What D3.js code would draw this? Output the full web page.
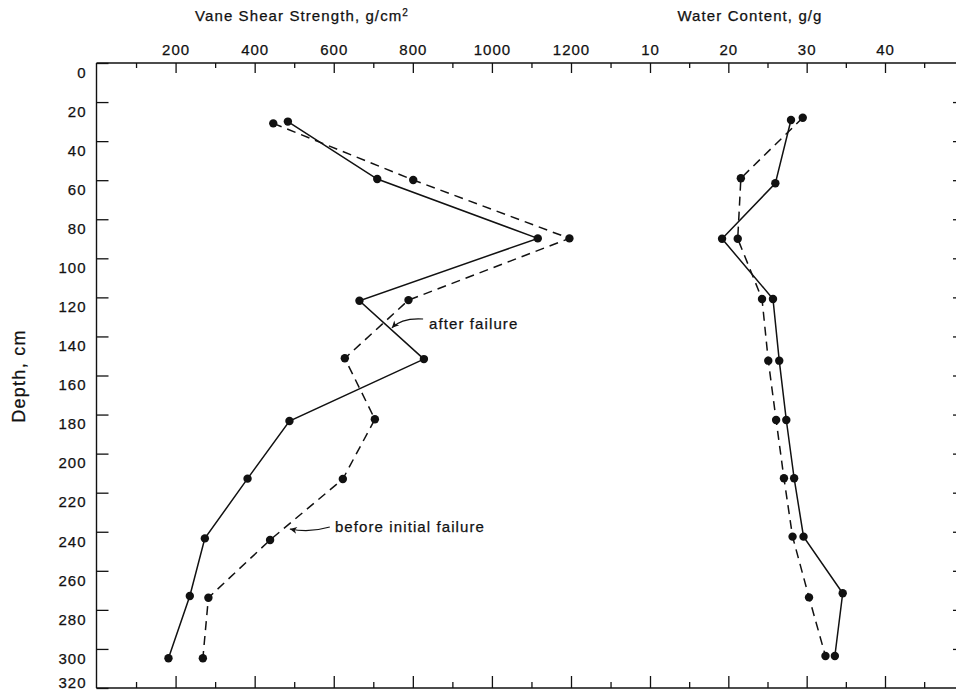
<!DOCTYPE html>
<html><head><meta charset="utf-8">
<script src="https://cdn.jsdelivr.net/npm/d3@7"></script>
<style>
body{margin:0;background:#fff;}
svg{display:block;font-family:"Liberation Sans",Arial,Helvetica,sans-serif;}
svg text{stroke:#111;stroke-width:0.25px;}
</style></head><body>
<svg id="chart" width="956" height="693"></svg>
<script>
// ---- data ----
const depthTicks = [0,20,40,60,80,100,120,140,160,180,200,220,240,260,280,300,320];
const vaneMajorTicks = [200,400,600,800,1000,1200];
const vaneMinorTicks = [100,300,500,700,900,1100,1300];
const waterMajorTicks = [10,20,30,40];
const waterMinorTicks = [15,25,35,45];

const vaneAfterDepth = [30.0, 59.4, 89.8, 121.7, 151.6, 183.3, 212.8, 243.4, 272.9, 304.8];
const vaneAfter      = [484, 710, 1116, 665, 828, 488, 382, 274, 236, 182];
const vaneBeforeDepth = [30.9, 59.9, 89.8, 121.4, 151.2, 182.4, 213.0, 244.2, 273.8, 304.8];
const vaneBefore      = [447, 801, 1196, 789, 628, 704, 623, 439, 283, 269];

const waterAfterDepth = [29.2, 61.6, 90.0, 120.8, 152.4, 182.8, 212.6, 242.5, 271.5, 303.6];
const waterAfter      = [28.0, 26.0, 19.2, 25.7, 26.5, 27.4, 28.4, 29.6, 34.6, 33.6];
const waterBeforeDepth = [28.0, 59.0, 90.0, 120.8, 152.4, 182.8, 212.6, 242.5, 273.6, 303.6];
const waterBefore      = [29.5, 21.6, 21.2, 24.3, 25.1, 26.1, 27.1, 28.2, 30.3, 32.4];

const annotAfter = {text:"after failure", v:841, d:136.2, start:[826,131.1], ctrl:[772,130.4], tip:[747,135.6]};
const annotBefore = {text:"before initial failure", v:603, d:239.9, start:[590,237.6], ctrl:[540,240.6], tip:[489,238.6]};

(function(){
// ---- scales ----
const svg = d3.select("#chart");
const ink = "#111";
const y = d3.scaleLinear().domain([0,320]).range([63,688]);
const xV = d3.scaleLinear().domain([0,1200]).range([96.5,571]);
const xW = d3.scaleLinear().domain([10,40]).range([650,885]);
const fLeft = 96.5, fRight = 956, fTop = 63, fBottom = 688;

function styleAxis(g){
  g.select(".domain").remove();
  g.selectAll(".tick line").attr("stroke",ink).attr("stroke-width",1.3);
  g.selectAll(".tick text").attr("fill",ink).attr("font-size",15).attr("letter-spacing","1px")
   .attr("font-family",'"Liberation Sans",Arial,Helvetica,sans-serif');
}

// frame lines
svg.append("line").attr("x1",fLeft).attr("x2",fRight).attr("y1",fTop).attr("y2",fTop).attr("stroke",ink).attr("stroke-width",1.4);
svg.append("line").attr("x1",fLeft).attr("x2",fRight).attr("y1",fBottom).attr("y2",fBottom).attr("stroke",ink).attr("stroke-width",1.4);
svg.append("line").attr("x1",fLeft).attr("x2",fLeft).attr("y1",fTop).attr("y2",fBottom).attr("stroke",ink).attr("stroke-width",1.4);

// top axes
svg.append("g").attr("transform",`translate(0,${fTop})`)
  .call(d3.axisTop(xV).tickValues(vaneMajorTicks).tickSize(-10).tickPadding(8).tickFormat(d3.format("d"))).call(styleAxis);
svg.append("g").attr("transform",`translate(0,${fTop})`)
  .call(d3.axisTop(xV).tickValues(vaneMinorTicks).tickSize(-5).tickFormat("")).call(styleAxis);
svg.append("g").attr("transform",`translate(0,${fTop})`)
  .call(d3.axisTop(xW).tickValues(waterMajorTicks).tickSize(-10).tickPadding(8).tickFormat(d3.format("d"))).call(styleAxis);
svg.append("g").attr("transform",`translate(0,${fTop})`)
  .call(d3.axisTop(xW).tickValues(waterMinorTicks).tickSize(-5).tickFormat("")).call(styleAxis);

// bottom axes (ticks only)
svg.append("g").attr("transform",`translate(0,${fBottom})`)
  .call(d3.axisBottom(xV).tickValues(vaneMajorTicks).tickSize(-12).tickFormat("")).call(styleAxis);
svg.append("g").attr("transform",`translate(0,${fBottom})`)
  .call(d3.axisBottom(xV).tickValues(vaneMinorTicks).tickSize(-6).tickFormat("")).call(styleAxis);
svg.append("g").attr("transform",`translate(0,${fBottom})`)
  .call(d3.axisBottom(xW).tickValues(waterMajorTicks).tickSize(-12).tickFormat("")).call(styleAxis);
svg.append("g").attr("transform",`translate(0,${fBottom})`)
  .call(d3.axisBottom(xW).tickValues(waterMinorTicks).tickSize(-6).tickFormat("")).call(styleAxis);

// left axis
const gl = svg.append("g").attr("transform",`translate(${fLeft},0)`)
  .call(d3.axisLeft(y).tickValues(depthTicks).tickSize(-12).tickPadding(10).tickFormat(d3.format("d"))).call(styleAxis);
gl.selectAll(".tick text").attr("dy", d => d===320 ? "-0.02em" : "0.95em");

// right ticks
svg.append("g").attr("transform",`translate(961,0)`)
  .call(d3.axisRight(y).tickValues(depthTicks.filter(d=>d>0&&d<320)).tickSize(-8).tickFormat("")).call(styleAxis);

// axis titles
svg.append("text").attr("x",302).attr("y",21).attr("text-anchor","middle").attr("font-size",15)
  .attr("letter-spacing","1.1px").attr("fill",ink)
  .html('Vane Shear Strength, g/cm<tspan dy="-5" font-size="10">2</tspan>');
svg.append("text").attr("x",750).attr("y",21).attr("text-anchor","middle").attr("font-size",15)
  .attr("letter-spacing","1.1px").attr("fill",ink).text("Water Content, g/g");
svg.append("text").attr("transform","translate(25,376) rotate(-90)").attr("text-anchor","middle")
  .attr("font-size",18).attr("letter-spacing","1.3px").attr("fill",ink).text("Depth, cm");

// series
function series(xs, ds, xScale, dashed){
  const pts = xs.map((v,i)=>({v, d:ds[i]}));
  svg.append("path").datum(pts)
    .attr("d", d3.line().x(p=>xScale(p.v)).y(p=>y(p.d)))
    .attr("fill","none").attr("stroke",ink).attr("stroke-width",1.5)
    .attr("stroke-dasharray", dashed ? "9,6" : null);
  svg.append("g").selectAll("circle").data(pts).join("circle")
    .attr("cx",p=>xScale(p.v)).attr("cy",p=>y(p.d)).attr("r",4.2).attr("fill",ink);
}
series(vaneBefore, vaneBeforeDepth, xV, true);
series(vaneAfter, vaneAfterDepth, xV, false);
series(waterBefore, waterBeforeDepth, xW, true);
series(waterAfter, waterAfterDepth, xW, false);

// annotations
svg.append("defs").append("marker").attr("id","arr").attr("markerUnits","userSpaceOnUse")
  .attr("markerWidth",10).attr("markerHeight",10).attr("refX",7).attr("refY",0)
  .attr("viewBox","-1 -5 10 10").attr("orient","auto")
  .append("path").attr("d","M0,-3.5 L7,0 L0,3.5 L2,0 Z").attr("fill",ink);
[annotAfter, annotBefore].forEach(a=>{
  svg.append("text").attr("x",xV(a.v)).attr("y",y(a.d)).attr("font-size",15)
    .attr("letter-spacing","1.1px").attr("fill",ink).text(a.text);
  const p = d3.path();
  p.moveTo(xV(a.start[0]), y(a.start[1]));
  p.quadraticCurveTo(xV(a.ctrl[0]), y(a.ctrl[1]), xV(a.tip[0]), y(a.tip[1]));
  svg.append("path").attr("d",p.toString()).attr("fill","none").attr("stroke",ink)
    .attr("stroke-width",1.1).attr("marker-end","url(#arr)");
});
})();
</script>
</body></html>
